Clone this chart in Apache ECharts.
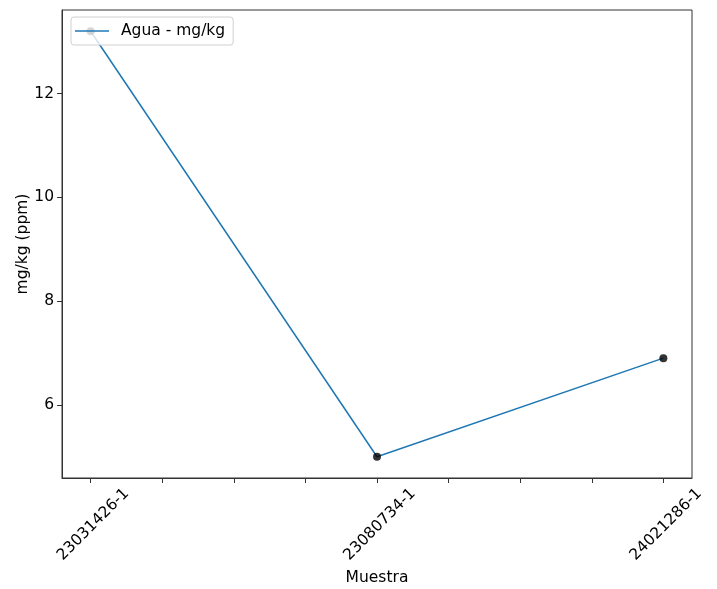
<!DOCTYPE html>
<html>
<head>
<meta charset="utf-8">
<script src="https://cdn.jsdelivr.net/npm/echarts@6/dist/echarts.min.js"></script>
<style>html,body{margin:0;padding:0;background:#fff}#c{width:717px;height:589px}</style>
</head>
<body>
<div id="c"></div>
<script>
const categories = ['23031426-1', '23080734-1', '24021286-1'];
const positions = [0, 4, 8];
const values = [13.2, 5.0, 6.9];
const xTicks = [0, 1, 2, 3, 4, 5, 6, 7, 8];
const yTicks = [6, 8, 10, 12];
const seriesName = 'Agua - mg/kg';

const pts = positions.map((p, i) => [p, values[i]]);
const font = 'DejaVu Sans';
const fs = 15.5;
const axisColor = '#333';
const chart = echarts.init(document.getElementById('c'), null, {renderer: 'canvas'});
chart.setOption({
  animation: false,
  backgroundColor: '#fff',
  textStyle: {fontFamily: font},
  grid: {left: 62, right: 25, top: 10, bottom: 111, show: true, borderColor: axisColor, borderWidth: 1,
         containLabel: false, outerBoundsMode: 'none'},
  legend: {
    data: [{name: seriesName, icon: 'rect'}],
    left: 71, top: 17,
    padding: [6, 8, 6, 4],
    itemWidth: 34, itemHeight: 1.5,
    backgroundColor: 'rgba(255,255,255,0.8)',
    borderColor: '#d0d0d0', borderWidth: 1, borderRadius: 3,
    textStyle: {fontFamily: font, fontSize: fs, color: '#000', padding: [0, 0, 0, 7]}
  },
  xAxis: {
    type: 'value', min: -0.4, max: 8.4,
    name: 'Muestra', nameLocation: 'middle', nameGap: 83,
    nameTextStyle: {fontFamily: font, fontSize: fs, color: '#000'},
    splitLine: {show: false},
    axisLine: {show: true, onZero: false, lineStyle: {color: axisColor, width: 1}},
    axisTick: {show: true, length: 5, customValues: xTicks, lineStyle: {color: axisColor, width: 1}},
    axisLabel: {
      customValues: positions, rotate: 45, margin: -23,
      align: 'right', verticalAlign: 'top', padding: [43, 0, 0, 0],
      fontFamily: font, fontSize: fs, color: '#000',
      formatter: v => { const i = positions.indexOf(v); return i >= 0 ? categories[i] : ''; }
    }
  },
  yAxis: {
    type: 'value', min: 4.59, max: 13.61,
    name: 'mg/kg (ppm)', nameLocation: 'middle', nameGap: 31, nameRotate: 90, nameMoveOverlap: false,
    nameTextStyle: {fontFamily: font, fontSize: fs, color: '#000'},
    splitLine: {show: false},
    axisLine: {show: true, onZero: false, lineStyle: {color: axisColor, width: 1}},
    axisTick: {show: true, length: 5, customValues: yTicks, lineStyle: {color: axisColor, width: 1}},
    axisLabel: {customValues: yTicks, margin: 8, fontFamily: font, fontSize: fs, color: '#000'}
  },
  series: [
    {name: seriesName, type: 'line', data: pts, showSymbol: false, symbol: 'none',
     lineStyle: {color: '#1f77b4', width: 1.5}, itemStyle: {color: '#1f77b4'}, z: 2},
    {name: 'pts', type: 'scatter', data: pts, symbol: 'circle', symbolSize: 8,
     itemStyle: {color: '#000'}, z: 3}
  ]
});
</script>
</body>
</html>
